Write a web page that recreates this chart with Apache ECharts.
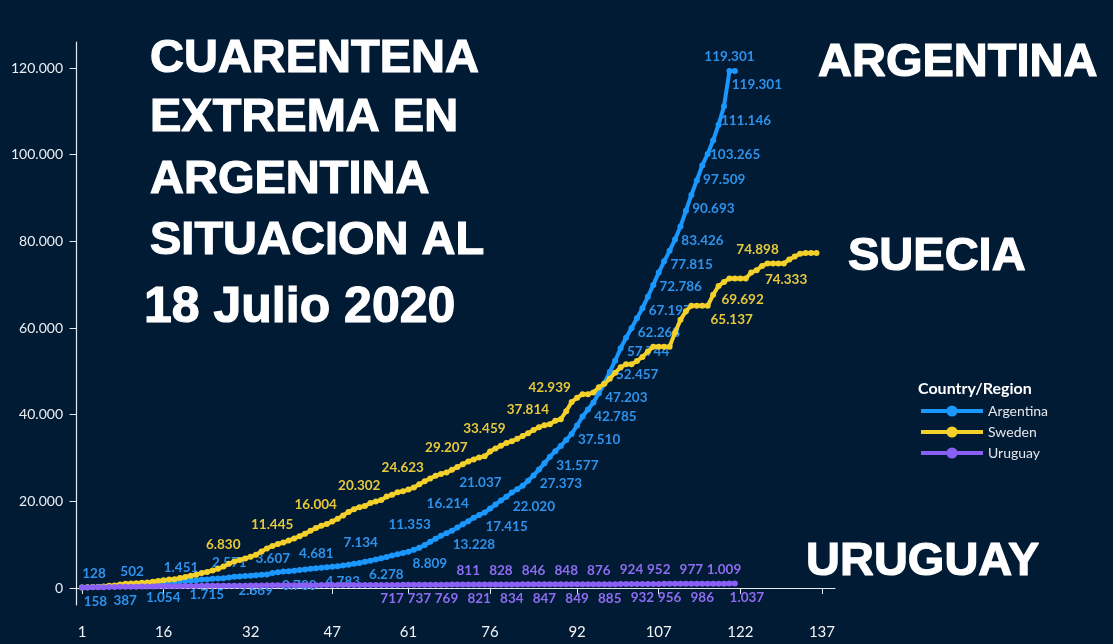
<!DOCTYPE html>
<html>
<head>
<meta charset="utf-8">
<script src="https://cdn.jsdelivr.net/npm/echarts@6/dist/echarts.min.js"></script>
<style>
html,body{margin:0;padding:0;background:#021b35;}
#chart{width:1113px;height:644px;}
</style>
</head>
<body>
<div id="chart"></div>
<script>
// ---- DATA ----
const seriesNames = ['Argentina', 'Sweden', 'Uruguay'];
const argentina = [128,158,225,266,301,387,387,502,589,690,745,820,1054,1054,1133,1265,1451,1451,1554,1628,
1715,1795,1975,1975,2142,2208,2277,2443,2571,2669,2758,2839,2941,3031,3144,3435,3607,3780,3892,4003,
4127,4285,4428,4532,4681,4783,4887,5020,5208,5371,5611,5776,6034,6278,6563,6879,7134,7479,7805,8068,
8371,8809,9283,9931,10649,11353,12076,12628,13228,13933,14702,15419,16214,16838,17415,18319,19268,20197,21037,22020,
22794,23620,24761,25987,27373,28764,30295,31577,32785,34159,35552,37510,39570,41204,42785,44931,47203,49851,52457,55343,
57744,59933,62268,64530,67197,69941,72786,75376,77815,80447,83426,87030,90693,94060,97509,100166,103265,106910,111146,119301,
119301];
const sweden = [137,161,203,248,355,500,599,814,961,1022,1103,1190,1279,1439,1639,1763,1934,2046,2286,2526,
2840,3069,3447,3700,4028,4435,4947,5568,6131,6443,6830,7206,7693,8419,9141,9685,10151,10483,10948,11445,
11927,12540,13216,13822,14385,14777,15322,16004,16755,17567,18177,18640,18926,19621,19966,20302,21092,21520,22082,22317,
22721,23216,23918,24623,25265,25921,26322,26670,27272,27909,28582,29207,29677,30143,30377,31523,32172,32809,33459,33843,
34440,35088,35727,36476,37113,37542,37814,38589,38950,40803,42939,43887,44730,44730,45133,46299,47131,48288,49684,50931,
51614,51614,52383,53323,54562,55672,55672,55672,55672,58932,61889,63890,65137,65137,65137,65137,67667,69692,70639,71419,
71419,71419,71419,72785,73344,74333,74898,74898,74898,74898,75826,76492,77140,77281,77281,77281];
const uruguay = [110,135,158,162,189,217,238,274,304,309,310,338,350,369,386,400,406,415,424,456,
473,480,494,501,502,508,514,517,528,535,543,557,563,596,606,620,625,630,641,646,
648,652,655,657,670,673,679,684,694,702,707,711,712,713,715,716,717,717,719,722,
729,733,737,738,739,746,753,769,785,787,803,811,818,821,822,824,825,828,832,834,
836,843,845,846,846,847,847,847,848,848,848,849,850,859,864,876,882,885,889,902,
919,924,929,932,936,947,952,953,956,962,967,972,977,980,986,998,1002,1005,1009,1026,
1037];
const xTicks = [1,16,32,47,61,76,92,107,122,137];
const yTicks = [0,20000,40000,60000,80000,100000,120000];
// days (1-based) that carry a data label
const argTopDays = [1,8,17,29,37,45,57,66,73,79,120];
const argBottomDays = [2,6,13,21,30,38,46,54,62,69,75,80,85,88,92,95,97,99,101,103,105,107,109,111,113,115,117,119,121];
const sweTopDays = [31,40,48,56,64,72,79,87,91,127];
const sweBottomDays = [116,118,126];
const uruTopDays = [72,78,84,90,96,102,107,113,119];
const uruBottomDays = [58,63,68,74,80,86,92,98,104,109,115,121];

// ---- STYLE ----
const lineColors = ['#1a98ff', '#f4d02a', '#8a5ff5'];
const labelColors = ['#2e92ea', '#e6c93a', '#8e6cf0'];
const fmt = v => String(v).replace(/\B(?=(\d{3})+(?!\d))/g, '.');

function argShift(day, pos) {
  if (pos === 'top') return day < 20 ? 12 : day < 50 ? -5 : day < 100 ? -26 : 0;
  if (day < 3) return 8;
  return day < 66 ? 16 : 22;
}
function sweShift(day, pos) {
  if (pos === 'top') return day < 100 ? -22 : -10;
  return 24;
}
function uruShift(day, pos) { return day === 121 ? 12 : 0; }

function build(values, idx, topDays, bottomDays, shiftFn) {
  return values.map((v, i) => {
    const d = i + 1;
    const item = { value: [d, v] };
    let pos = null;
    if (topDays.includes(d)) pos = 'top';
    else if (bottomDays.includes(d)) pos = 'bottom';
    if (pos) {
      item.label = {
        show: true,
        position: pos,
        distance: 4,
        offset: [shiftFn(d, pos), 0],
        color: labelColors[idx],
        fontFamily: 'Lato',
        fontWeight: 'bold',
        fontSize: 13.5,
        formatter: p => fmt(p.value[1])
      };
    }
    return item;
  });
}

const dataSets = [
  build(argentina, 0, argTopDays, argBottomDays, argShift),
  build(sweden, 1, sweTopDays, sweBottomDays, sweShift),
  build(uruguay, 2, uruTopDays, uruBottomDays, uruShift)
];

const chart = echarts.init(document.getElementById('chart'), null, { renderer: 'canvas' });

const bigText = (text, x, y, size) => ({
  type: 'text', x: x, y: y, z: 100,
  style: {
    text, fill: '#ffffff', stroke: '#ffffff', lineWidth: 1.2,
    font: 'bold ' + size + 'px "Liberation Sans", Arial, sans-serif',
    textAlign: 'left', textVerticalAlign: 'middle'
  }
});

chart.setOption({
  animation: false,
  backgroundColor: '#021b35',
  grid: { left: 73, right: 278, top: 42, bottom: 39, containLabel: false },
  xAxis: {
    type: 'value', min: -0.65, max: 139.4,
    axisLine: { show: true, lineStyle: { color: '#e6e9ee', width: 1.2 } },
    axisTick: { show: true, customValues: xTicks, length: 6, lineStyle: { color: '#e6e9ee' } },
    axisLabel: { customValues: xTicks, color: '#f2f4f6', fontFamily: 'Lato', fontSize: 15, margin: 20 },
    splitLine: { show: false }
  },
  yAxis: {
    type: 'value', min: -3923, max: 126000,
    axisLine: { show: true, lineStyle: { color: '#e6e9ee', width: 1.2 } },
    axisTick: { show: true, customValues: yTicks, length: 7, lineStyle: { color: '#e6e9ee' } },
    axisLabel: { customValues: yTicks, color: '#eceff2', fontFamily: 'Lato', fontSize: 14, margin: 10, formatter: v => fmt(v) },
    splitLine: { show: false }
  },
  legend: {
    orient: 'vertical', left: 914, top: 399,
    itemWidth: 62, itemHeight: 14, itemGap: 7,
    data: seriesNames,
    lineStyle: { width: 4 },
    textStyle: { color: '#e4e6ea', fontFamily: 'Lato', fontSize: 14 }
  },
  series: seriesNames.map((name, i) => ({
    name, type: 'line',
    data: dataSets[i],
    symbol: 'circle', symbolSize: 6, showSymbol: true,
    color: lineColors[i],
    lineStyle: { width: 4, color: lineColors[i] },
    itemStyle: { color: lineColors[i] },
    label: { show: false },
    z: 2 + i
  })),
  graphic: [
    bigText('CUARENTENA', 150, 59, 47),
    bigText('EXTREMA EN', 150, 118, 47),
    bigText('ARGENTINA', 150, 180, 47),
    bigText('SITUACION AL', 150, 241, 47),
    bigText('18 Julio 2020', 144, 308, 50),
    bigText('ARGENTINA', 818, 63, 47),
    bigText('SUECIA', 848, 257, 47),
    bigText('URUGUAY', 806, 562, 47),
    { type: 'text', x: 918, y: 389, z: 100,
      style: { text: 'Country/Region', fill: '#ffffff', font: 'bold 16px Lato, sans-serif', textAlign: 'left', textVerticalAlign: 'middle' } }
  ]
});
</script>
</body>
</html>
